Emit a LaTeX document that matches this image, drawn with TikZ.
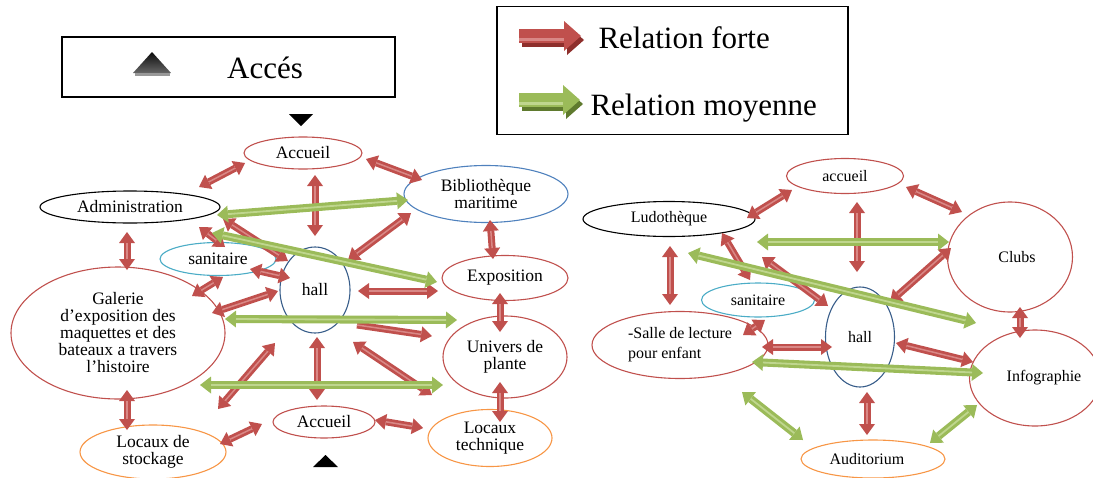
\documentclass[tikz,border=0pt]{standalone}
\usepackage{fontspec}
\setmainfont{Liberation Serif}
\usetikzlibrary{arrows.meta,shapes.geometric}
\definecolor{ered}{HTML}{C0504D}
\definecolor{eblue}{HTML}{4F81BD}
\definecolor{edblue}{HTML}{385D8A}
\definecolor{ecyan}{HTML}{4BACC6}
\definecolor{eorange}{HTML}{F79646}
\definecolor{arred}{HTML}{C0504D}
\definecolor{arredl}{HTML}{D98886}
\definecolor{arredd}{HTML}{8E2F2C}
\definecolor{argreen}{HTML}{9BBB59}
\definecolor{argreenl}{HTML}{BFD68E}
\definecolor{argreend}{HTML}{5F7A2E}
\newcommand\conn[4]{\coordinate (#1a) at (#2);\coordinate (#1b) at (#3);\draw[#4] (#1a) -- (#1b);\draw[#4hl] (#1a) -- (#1b);}
\tikzset{
 ell/.style={ellipse, draw, line width=1.1pt, inner sep=0pt, align=center, font=\fontsize{17.5}{17}\selectfont},
 ellr/.style={ell, font=\fontsize{16}{20}\selectfont},
 rd/.style={draw=arred, line width=7pt, {Triangle[width=16pt,length=11pt,line width=0pt]}-{Triangle[width=16pt,length=11pt,line width=0pt]}},
 rdhl/.style={draw=arredl, line width=1.5pt, shorten <=11pt, shorten >=11pt},
 rs/.style={draw=arred, line width=7pt, -{Triangle[width=16pt,length=11pt,line width=0pt]}},
 rshl/.style={draw=arredl, line width=1.5pt, shorten >=11pt},
 gd/.style={draw=argreen, line width=8pt, {Triangle[width=17pt,length=11pt,line width=0pt]}-{Triangle[width=17pt,length=11pt,line width=0pt]}},
 gdhl/.style={draw=argreenl, line width=1.8pt, shorten <=11pt, shorten >=11pt},
 box/.style={draw, line width=1.5pt, inner sep=0pt},
}
\begin{document}
\begin{tikzpicture}[x=1pt,y=-1pt]
\useasboundingbox (0,0) rectangle (1093,477);
% Acces box and legend
\node[box, minimum width=333pt, minimum height=60pt] (accbox) at (228.5,67) {};
\shade[top color=black!95, bottom color=black!60] (133,73) -- (152,52) -- (171,73) -- cycle;
\fill[black!40] (135,73) rectangle (170,76);
\node[font=\fontsize{31}{31}\selectfont] (acces) at (265,68) {Accés};
\fill[black] (289,114) -- (313,114) -- (301,126) -- cycle;
\fill[black] (313,467) -- (338,467) -- (325.5,455) -- cycle;
\node[box, minimum width=351pt, minimum height=128pt] (legend) at (672.5,70.5) {};
\coordinate (lr1) at (519,36); \coordinate (lr2) at (581,36);
\draw[draw=arredd, line width=14pt, -{Triangle[width=30pt,length=17pt,line width=0pt]}] ([shift={(3,4)}]lr1) -- ([shift={(3,4)}]lr2);
\draw[draw=arred, line width=14pt, -{Triangle[width=30pt,length=17pt,line width=0pt]}] (lr1) -- (lr2);
\draw[draw=arredl, line width=3pt, shorten >=17pt] ([yshift=-3]lr1) -- ([yshift=-3]lr2);
\coordinate (lg1) at (519,100); \coordinate (lg2) at (580,100);
\draw[draw=argreend, line width=14pt, -{Triangle[width=30pt,length=17pt,line width=0pt]}] ([shift={(3,4)}]lg1) -- ([shift={(3,4)}]lg2);
\draw[draw=argreen, line width=14pt, -{Triangle[width=30pt,length=17pt,line width=0pt]}] (lg1) -- (lg2);
\draw[draw=argreenl, line width=3pt, shorten >=17pt] ([yshift=-3]lg1) -- ([yshift=-3]lg2);
\node[anchor=west, font=\fontsize{31}{31}\selectfont] (lt1) at (595,38) {Relation forte};
\node[anchor=west, font=\fontsize{31}{31}\selectfont] (lt2) at (587,108) {Relation moyenne};
% left diagram nodes
\node[ell, draw=ered, minimum width=118pt, minimum height=32pt] (acc1) at (303,153) {Accueil};
\node[ell, draw=eblue, minimum width=164pt, minimum height=57pt] (bib) at (486,194) {Bibliothèque\\maritime};
\node[ell, draw=black, minimum width=180pt, minimum height=32pt] (adm) at (130,207) {Administration};
\node[ell, draw=ecyan, minimum width=116pt, minimum height=33pt] (san1) at (218,259) {sanitaire};
\node[ell, draw=edblue, minimum width=70pt, minimum height=86pt] (hall1) at (315,290) {hall};
\node[ell, draw=ered, minimum width=126pt, minimum height=45pt] (expo) at (505,278) {Exposition};
\node[ell, draw=ered, minimum width=214pt, minimum height=132pt] (gal) at (118,333) {Galerie\\d’exposition des\\maquettes et des\\bateaux a travers\\l’histoire};
\node[ell, draw=ered, minimum width=124pt, minimum height=82pt] (univ) at (505,357) {Univers de\\plante};
\node[ell, draw=ered, minimum width=102pt, minimum height=32pt] (acc2) at (324,422) {Accueil};
\node[ell, draw=eorange, minimum width=146pt, minimum height=54pt] (stock) at (153,452) {Locaux de\\stockage};
\node[ell, draw=eorange, minimum width=124pt, minimum height=57pt] (tech) at (490,438) {Locaux\\technique};
% right diagram nodes
\node[ellr, draw=ered, minimum width=117pt, minimum height=35pt] (acc3) at (845,176) {accueil};
\node[ellr, draw=black, minimum width=172pt, minimum height=35pt] (ludo) at (669,219) {Ludothèque};
\node[ellr, draw=ered, minimum width=125pt, minimum height=110pt] (clubs) at (1010,257) {\hspace*{14pt}Clubs};
\node[ellr, draw=ecyan, minimum width=113pt, minimum height=34pt] (san2) at (758,300) {sanitaire};
\node[ellr, draw=edblue, minimum width=69pt, minimum height=100pt] (hall2) at (860,337) {hall};
\node[ellr, draw=ered, minimum width=176pt, minimum height=67pt, align=left] (salle) at (680,345) {-Salle de lecture\\pour enfant};
\node[ellr, draw=ered, minimum width=124pt, minimum height=96pt] (info) at (1035,378) {\hspace*{18pt}Infographie};
\node[ellr, draw=eorange, minimum width=144pt, minimum height=38pt] (audi) at (873,459) {\hspace*{-12pt}Auditorium};
% left red arrows
\conn{a1}{245,163}{199,187}{rd}
\conn{a2}{366,159}{422,180}{rd}
\conn{a3}{315,175}{315,236}{rd}
\conn{a4}{411,213}{348,260}{rd}
\conn{a5}{490,220}{493,259}{rd}
\conn{a6}{358,291}{438,291}{rd}
\conn{a7}{500,293}{500,332}{rd}
\conn{a8}{500,382}{500,422}{rd}
\conn{a9}{375,420}{423,428}{rd}
\conn{a10}{357,325}{432,336}{rs}
\conn{a11}{353,342}{432,395}{rd}
\conn{a12}{317,337}{317,400}{rd}
\conn{a13}{275,343}{218,409}{rd}
\conn{a14}{262,424}{220,444}{rd}
\conn{a15}{127,390}{127,430}{rd}
\conn{a16}{127,232}{127,270}{rd}
\conn{a17}{199,227}{225,247}{rd}
\conn{a18}{223,219}{288,261}{rd}
\conn{a19}{250,269}{290,278}{rd}
\conn{a20}{192,296}{223,277}{rd}
\conn{a21}{212,313}{278,291}{rd}
% left green arrows
\conn{g1}{217,215}{408,200}{gd}
\conn{g2}{212,233}{437,282}{gd}
\conn{g3}{225,319}{457,320}{gd}
\conn{g4}{200,385}{443,385}{gd}
% right red arrows
\conn{b1}{792,190}{747,218}{rd}
\conn{b2}{906,187}{962,212}{rd}
\conn{b3}{857,202}{857,272}{rd}
\conn{b4}{951,248}{890,302}{rd}
\conn{b5}{1020,307}{1020,338}{rd}
\conn{b6}{670,246}{670,305}{rd}
\conn{b7}{722,233}{750,280}{rd}
\conn{b8}{762,257}{828,306}{rd}
\conn{b9}{765,320}{743,335}{rd}
\conn{b10}{762,347}{832,347}{rd}
\conn{b11}{896,343}{973,362}{rd}
\conn{b12}{867,392}{867,435}{rd}
% right green arrows
\conn{h1}{757,242}{949,242}{gd}
\conn{h2}{688,253}{976,323}{gd}
\conn{h3}{752,362}{983,373}{gd}
\conn{h4}{742,392}{803,440}{gd}
\conn{h5}{930,443}{977,405}{gd}
\end{tikzpicture}
\end{document}
